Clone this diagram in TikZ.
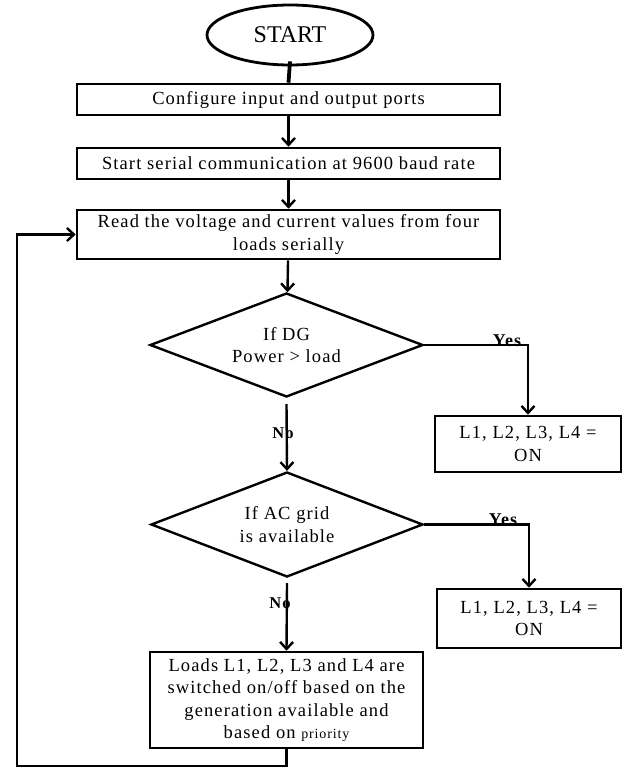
\documentclass[tikz,border=0pt]{standalone}
\usepackage{fontspec}
\setmainfont{Liberation Serif}
\newfontfamily\spaced{Liberation Serif}[LetterSpace=6]
\usetikzlibrary{shapes.geometric,arrows.meta}
\begin{document}
\begin{tikzpicture}[x=1pt,y=-1pt,
  box/.style={draw, line width=2.6pt, inner sep=0pt, align=center,
    font=\spaced\fontsize{18.5}{22.5}\selectfont},
  wide/.style={box, minimum width=423pt},
  dia/.style={draw, diamond, line width=2.4pt, inner sep=0pt, aspect=2.6, align=center,
    font=\spaced\fontsize{18.5}{22.5}\selectfont},
  lbl/.style={font=\spaced\bfseries\fontsize{18}{20}\selectfont, inner sep=0pt},
  arr/.style={line width=2.4pt, -{Straight Barb[length=7pt,width=13pt]}},
]
\useasboundingbox (0,0) rectangle (622,767);

\node[draw, ellipse, line width=2.8pt, minimum width=166pt, minimum height=60pt, inner sep=0pt,
  font=\fontsize{24}{28}\selectfont] (start) at (290,35) {START};
\node[wide, minimum height=31pt] (b1) at (288.5,99.5) {Configure input and output ports};
\node[wide, minimum height=31pt] (b2) at (288.5,163.5) {Start serial communication at 9600 baud rate};
\node[wide, minimum height=49pt] (b3) at (288.5,234.5) {Read the voltage and current values from four\\loads serially};
\node[dia, minimum width=273pt, minimum height=104pt] (d1) at (286.5,345) {If DG\\Power > load};
\node[box, minimum width=186pt, minimum height=56pt] (r1) at (528,444) {L1, L2, L3, L4 =\\ON};
\node[dia, minimum width=272pt, minimum height=105pt] (d2) at (287,524.5) {If AC grid\\is available};
\node[box, minimum width=184pt, minimum height=59pt] (r2) at (529,618.5) {L1, L2, L3, L4 =\\ON};
\node[box, minimum width=273pt, minimum height=96pt] (fin) at (286.5,700)
  {Loads L1, L2, L3 and L4 are\\switched on/off based on the\\generation available and\\based on {\fontsize{14}{22.5}\selectfont priority}};

\node[lbl, anchor=base] (y1) at (507,346) {Yes};
\node[lbl, font=\spaced\bfseries\fontsize{16.5}{18}\selectfont] (n1) at (283,433) {No};
\node[lbl, anchor=base] (y2) at (503,525) {Yes};
\node[lbl, font=\spaced\bfseries\fontsize{16.5}{18}\selectfont] (n2) at (280,603) {No};

\draw[line width=3.8pt] ([yshift=5pt]start.south) -- (b1.north);
\draw[arr] (b1) -- (b2);
\draw[arr] (b2) -- (b3);
\draw[arr] (b3) -- (d1);
\draw[arr] (d1.east) -| (r1.north);
\draw[arr] ([yshift=-6pt]d1.south) -- (d2.north);
\draw[arr] (d2.east) -| (r2.north);
\draw[arr] ([yshift=-5pt]d2.south) -- (fin.north);
\coordinate (lb) at (17,766);
\draw[arr] (fin.south) |- (lb) |- (b3.west);
\end{tikzpicture}
\end{document}
